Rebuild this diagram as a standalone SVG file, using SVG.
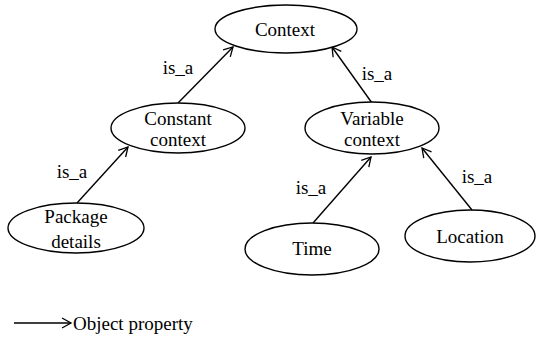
<svg xmlns="http://www.w3.org/2000/svg" width="537" height="341" viewBox="0 0 537 341">
<defs>
<marker id="arr" markerWidth="12" markerHeight="12" refX="10" refY="6" orient="auto" markerUnits="userSpaceOnUse">
<path d="M1,1 L10,6 L1,11" fill="none" stroke="#000" stroke-width="1.3"/>
</marker>
</defs>
<rect width="537" height="341" fill="#fff"/>
<g id="connectors" stroke="#000" stroke-width="1.4">
<line x1="178" y1="103" x2="233" y2="47" marker-end="url(#arr)"/>
<line x1="372" y1="103" x2="332" y2="47" marker-end="url(#arr)"/>
<line x1="77" y1="203" x2="128" y2="147" marker-end="url(#arr)"/>
<line x1="313" y1="223" x2="371" y2="157" marker-end="url(#arr)"/>
<line x1="472" y1="210" x2="422" y2="148" marker-end="url(#arr)"/>
<line x1="14" y1="323" x2="71" y2="323" marker-end="url(#arr)"/>
</g>
<g id="context" fill="#fff" stroke="#000" stroke-width="1.4"><ellipse cx="286" cy="29" rx="71" ry="24"/></g>
<g id="constant" fill="#fff" stroke="#000" stroke-width="1.4"><ellipse cx="178" cy="128" rx="67" ry="25"/></g>
<g id="variable" fill="#fff" stroke="#000" stroke-width="1.4"><ellipse cx="372" cy="128" rx="67" ry="26"/></g>
<g id="package" fill="#fff" stroke="#000" stroke-width="1.4"><ellipse cx="76" cy="228" rx="68" ry="25"/></g>
<g id="time" fill="#fff" stroke="#000" stroke-width="1.4"><ellipse cx="312" cy="249" rx="67" ry="26"/></g>
<g id="location" fill="#fff" stroke="#000" stroke-width="1.4"><ellipse cx="470" cy="236" rx="65" ry="26"/></g>
<text x="285" y="36" text-anchor="middle" style="font-family:'Liberation Serif',serif;font-size:19px">Context</text>
<text x="178" y="125" text-anchor="middle" style="font-family:'Liberation Serif',serif;font-size:19px">Constant</text>
<text x="178" y="146" text-anchor="middle" style="font-family:'Liberation Serif',serif;font-size:19px">context</text>
<text x="372" y="125" text-anchor="middle" style="font-family:'Liberation Serif',serif;font-size:19px">Variable</text>
<text x="372" y="146" text-anchor="middle" style="font-family:'Liberation Serif',serif;font-size:19px">context</text>
<text x="76" y="223" text-anchor="middle" style="font-family:'Liberation Serif',serif;font-size:19px">Package</text>
<text x="76" y="248" text-anchor="middle" style="font-family:'Liberation Serif',serif;font-size:19px">details</text>
<text x="312" y="255" text-anchor="middle" style="font-family:'Liberation Serif',serif;font-size:19px">Time</text>
<text x="470" y="243" text-anchor="middle" style="font-family:'Liberation Serif',serif;font-size:19px">Location</text>
<text x="178" y="74" text-anchor="middle" style="font-family:'Liberation Serif',serif;font-size:19px">is_a</text>
<text x="377" y="80" text-anchor="middle" style="font-family:'Liberation Serif',serif;font-size:19px">is_a</text>
<text x="72" y="178" text-anchor="middle" style="font-family:'Liberation Serif',serif;font-size:19px">is_a</text>
<text x="311" y="194" text-anchor="middle" style="font-family:'Liberation Serif',serif;font-size:19px">is_a</text>
<text x="477" y="183" text-anchor="middle" style="font-family:'Liberation Serif',serif;font-size:19px">is_a</text>
<text x="73" y="330" style="font-family:'Liberation Serif',serif;font-size:19px">Object property</text>
</svg>
